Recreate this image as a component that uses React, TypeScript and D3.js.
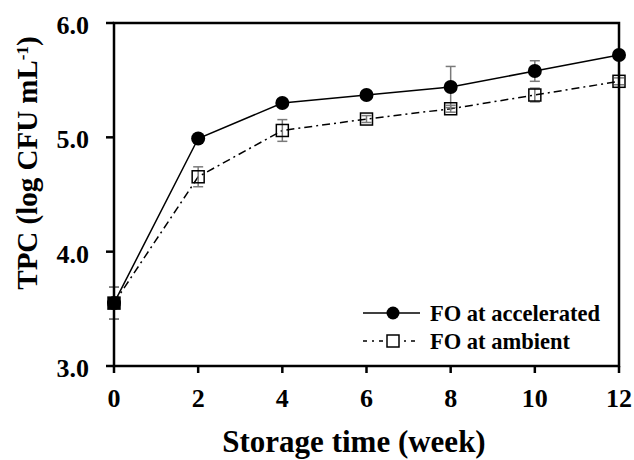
import * as d3 from 'd3';

const weeks = [0, 2, 4, 6, 8, 10, 12];
const accelerated = [3.55, 4.99, 5.3, 5.37, 5.44, 5.58, 5.72];
const acceleratedErr = [0.14, 0.03, 0.03, 0.03, 0.18, 0.09, 0.03];
const ambient = [3.55, 4.655, 5.06, 5.16, 5.25, 5.37, 5.49];
const ambientErr = [0.14, 0.087, 0.095, 0.03, 0.03, 0.06, 0.03];
const yTicks = [3, 4, 5, 6];
const xTicks = [0, 2, 4, 6, 8, 10, 12];
const seriesNames = ['FO at accelerated', 'FO at ambient'];

const W = 634;
const H = 460;
const margin = { top: 23, right: 15, bottom: 94, left: 114 };
const FONT = '"Liberation Serif", "Times New Roman", serif';

export default function App() {
  const x = d3.scaleLinear().domain([0, 12]).range([margin.left, W - margin.right]);
  const y = d3.scaleLinear().domain([3, 6]).range([H - margin.bottom, margin.top]);

  const line = d3
    .line<number>()
    .x((_, i) => x(weeks[i]))
    .y((d) => y(d));

  const errColor = '#7a7a7a';
  const errBars = (vals: number[], errs: number[], key: string) =>
    vals.map((v, i) => {
      const cx = x(weeks[i]);
      const y1 = y(v + errs[i]);
      const y2 = y(v - errs[i]);
      return (
        <g key={key + i} stroke={errColor} strokeWidth={1.5}>
          <line x1={cx} x2={cx} y1={y1} y2={y2} />
          <line x1={cx - 5} x2={cx + 5} y1={y1} y2={y1} />
          <line x1={cx - 5} x2={cx + 5} y1={y2} y2={y2} />
        </g>
      );
    });

  const [x0, x1] = x.range();
  const [yb, yt] = y.range();
  const legX = 363;
  const legY = [313, 341];

  return (
    <svg width={W} height={H} style={{ position: 'absolute', left: 0, top: 0 }} fontFamily={FONT}>
      <rect width={W} height={H} fill="#fff" />

      {/* lines */}
      <path d={line(ambient) || ''} fill="none" stroke="#000" strokeWidth={1.5} strokeDasharray="8,4,2,4" />
      <path d={line(accelerated) || ''} fill="none" stroke="#000" strokeWidth={1.5} />

      {errBars(ambient, ambientErr, 'a')}
      {errBars(accelerated, acceleratedErr, 'b')}

      {/* markers */}
      {accelerated.map((v, i) => (
        <circle key={'c' + i} cx={x(weeks[i])} cy={y(v)} r={7} fill="#000" />
      ))}
      {ambient.map((v, i) => (
        <rect
          key={'s' + i}
          x={x(weeks[i]) - 6}
          y={y(v) - 6}
          width={12}
          height={12}
          fill={i === 0 ? '#000' : 'none'}
          stroke="#000"
          strokeWidth={1.5}
        />
      ))}

      {/* frame */}
      <rect x={x0} y={yt} width={x1 - x0} height={yb - yt} fill="none" stroke="#000" strokeWidth={2.5} />

      {/* y ticks */}
      {yTicks.map((t) => (
        <g key={'y' + t}>
          <line x1={x0 - 8} x2={x0} y1={y(t)} y2={y(t)} stroke="#000" strokeWidth={2.5} />
          <text x={x0 - 25} y={y(t) + 2} dy="0.35em" textAnchor="end" fontSize={26} fontWeight="bold">
            {t.toFixed(1)}
          </text>
        </g>
      ))}

      {/* x ticks */}
      {xTicks.map((t) => (
        <g key={'x' + t}>
          <line x1={x(t)} x2={x(t)} y1={yb} y2={yb + 7} stroke="#000" strokeWidth={2.5} />
          <text x={x(t)} y={yb + 41} textAnchor="middle" fontSize={26} fontWeight="bold">
            {t}
          </text>
        </g>
      ))}

      {/* axis titles */}
      <text x={354} y={452} textAnchor="middle" fontSize={31} fontWeight="bold">
        Storage time (week)
      </text>
      <text
        transform={`translate(37,163) rotate(-90)`}
        textAnchor="middle"
        fontSize={29}
        fontWeight="bold"
      >
        TPC (log CFU mL
        <tspan baselineShift="super" fontSize={17}>-1</tspan>
        )
      </text>

      {/* legend */}
      <line x1={legX} x2={legX + 57} y1={legY[0]} y2={legY[0]} stroke="#000" strokeWidth={1.5} />
      <circle cx={legX + 30} cy={legY[0]} r={6.5} fill="#000" />
      <line
        x1={legX}
        x2={legX + 57}
        y1={legY[1]}
        y2={legY[1]}
        stroke="#000"
        strokeWidth={1.5}
        strokeDasharray="4,5,2,5"
      />
      <rect x={legX + 24} y={legY[1] - 6} width={12} height={12} fill="#fff" stroke="#000" strokeWidth={1.5} />
      {seriesNames.map((n, i) => (
        <text key={n} x={legX + 67} y={legY[i]} dy="0.35em" fontSize={22.5} fontWeight="bold">
          {n}
        </text>
      ))}
    </svg>
  );
}
